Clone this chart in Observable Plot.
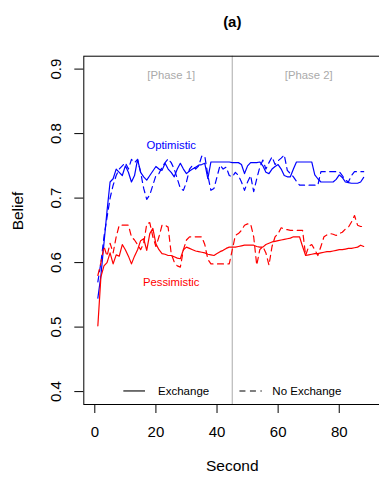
<!DOCTYPE html>
<html><head><meta charset="utf-8">
<script src="https://cdn.jsdelivr.net/npm/d3@7"></script>
<script src="https://cdn.jsdelivr.net/npm/@observablehq/plot@0.6"></script>
<style>body{margin:0;background:#fff}</style>
</head><body><div id="chart"></div>
<script>
const seconds = [1,2,3,4,5,6,7,8,9,10,11,12,13,14,15,16,17,18,19,20,21,22,23,24,25,26,27,28,29,30,31,32,33,34,35,36,37,38,39,40,41,42,43,44,45,46,47,48,49,50,51,52,53,54,55,56,57,58,59,60,61,62,63,64,65,66,67,68,69,70,71,72,73,74,75,76,77,78,79,80,81,82,83,84,85,86,87,88];
const exchangeOptimistic = [
  0.545,0.58,0.63,0.68,0.725,0.73,0.745,0.74,0.735,0.75,
  0.74,0.725,0.735,0.76,0.74,0.733,0.728,0.735,0.742,0.749,
  0.745,0.743,0.754,0.745,0.74,0.733,0.745,0.754,0.745,0.738,
  0.742,0.745,0.748,0.751,0.752,0.754,0.73,0.756,0.756,0.756,
  0.756,0.756,0.756,0.756,0.755,0.755,0.755,0.752,0.738,0.75,
  0.755,0.755,0.755,0.756,0.75,0.74,0.738,0.745,0.749,0.752,
  0.745,0.735,0.733,0.733,0.745,0.756,0.756,0.756,0.756,0.756,
  0.756,0.736,0.73,0.725,0.725,0.725,0.725,0.725,0.729,0.736,
  0.732,0.725,0.724,0.723,0.723,0.723,0.725,0.732];
const noExchangeOptimistic = [
  0.57,0.6,0.64,0.67,0.7,0.72,0.735,0.745,0.75,0.755,
  0.745,0.76,0.755,0.76,0.74,0.715,0.698,0.705,0.72,0.735,
  0.738,0.748,0.755,0.761,0.755,0.745,0.73,0.715,0.712,0.725,
  0.745,0.751,0.745,0.75,0.765,0.765,0.735,0.712,0.715,0.733,
  0.751,0.745,0.748,0.735,0.733,0.74,0.735,0.725,0.712,0.725,
  0.735,0.71,0.73,0.748,0.759,0.745,0.755,0.764,0.752,0.758,
  0.762,0.767,0.743,0.738,0.733,0.726,0.72,0.72,0.72,0.72,
  0.72,0.72,0.72,0.741,0.741,0.741,0.741,0.741,0.741,0.741,
  0.735,0.728,0.725,0.735,0.741,0.741,0.741,0.741];
const exchangePessimistic = [
  0.502,0.578,0.595,0.6,0.615,0.598,0.612,0.61,0.628,0.62,
  0.61,0.598,0.61,0.62,0.634,0.637,0.619,0.645,0.653,0.629,
  0.62,0.614,0.613,0.611,0.611,0.609,0.607,0.606,0.62,0.624,
  0.622,0.62,0.618,0.617,0.616,0.615,0.613,0.612,0.611,0.614,
  0.617,0.619,0.622,0.624,0.624,0.624,0.625,0.626,0.627,0.627,
  0.627,0.627,0.625,0.624,0.624,0.628,0.63,0.632,0.633,0.634,
  0.635,0.636,0.637,0.638,0.64,0.64,0.64,0.625,0.611,0.612,
  0.613,0.614,0.614,0.615,0.616,0.617,0.617,0.618,0.619,0.62,
  0.62,0.621,0.622,0.622,0.623,0.624,0.627,0.625];
const noExchangePessimistic = [
  0.58,0.6,0.625,0.61,0.63,0.615,0.64,0.658,0.658,0.658,
  0.658,0.64,0.635,0.628,0.62,0.63,0.66,0.662,0.64,0.625,
  0.64,0.658,0.658,0.655,0.614,0.601,0.595,0.593,0.62,0.635,
  0.64,0.64,0.64,0.64,0.64,0.628,0.605,0.598,0.598,0.598,
  0.598,0.598,0.598,0.598,0.62,0.642,0.645,0.65,0.658,0.66,
  0.66,0.64,0.596,0.62,0.625,0.615,0.596,0.625,0.64,0.645,
  0.654,0.652,0.651,0.65,0.65,0.65,0.65,0.65,0.611,0.625,
  0.628,0.62,0.611,0.625,0.64,0.643,0.645,0.644,0.642,0.645,
  0.647,0.652,0.655,0.663,0.673,0.658,0.656,0.656];
const xTicks = [0, 20, 40, 60, 80];
const yTicks = [0.4, 0.5, 0.6, 0.7, 0.8, 0.9];
const phaseBreak = [45];
const phaseLabels = ["[Phase 1]", "[Phase 2]"];
const phaseCenters = [25, 70];
const groupLabels = ["Optimistic", "Pessimistic"];
const legendLabels = ["Exchange", "No Exchange"];

const toRows = vals => seconds.map((s, i) => ({second: s, belief: vals[i]}));
const font = "'Liberation Sans', Arial, Helvetica, sans-serif";
const DASH = "6,4.5";

const chart = Plot.plot({
  width: 379, height: 479,
  marginLeft: 83.3, marginRight: -1.3, marginTop: 55.7, marginBottom: 75,
  style: {fontFamily: font, background: "white", color: "black", overflow: "hidden"},
  x: {domain: [-3.6, 93.6], range: [83.3, 380.3]},
  y: {domain: [0.38, 0.92], range: [404, 55.7]},
  marks: [
    Plot.ruleX(phaseBreak, {stroke: "#bebebe", strokeWidth: 1.3}),
    Plot.text(phaseLabels, {x: (d, i) => phaseCenters[i], frameAnchor: "top", dy: 14.5, fill: "#aaaaaa", fontSize: 11.3}),
    Plot.line(toRows(exchangeOptimistic), {x: "second", y: "belief", stroke: "blue", strokeWidth: 1.2}),
    Plot.line(toRows(noExchangeOptimistic), {x: "second", y: "belief", stroke: "blue", strokeWidth: 1.2, strokeDasharray: DASH}),
    Plot.line(toRows(exchangePessimistic), {x: "second", y: "belief", stroke: "red", strokeWidth: 1.2}),
    Plot.line(toRows(noExchangePessimistic), {x: "second", y: "belief", stroke: "red", strokeWidth: 1.2, strokeDasharray: DASH}),
    Plot.text([groupLabels[0]], {x: 25, y: 0.782, fill: "blue", fontSize: 11.3}),
    Plot.text([groupLabels[1]], {x: 25, y: 0.570, fill: "red", fontSize: 11.3}),
    Plot.ruleY([0.401], {x1: 9.5, x2: 16.6, stroke: "black", strokeWidth: 1.1}),
    Plot.ruleY([0.401], {x1: 47.5, x2: 54.8, stroke: "black", strokeWidth: 1.1, strokeDasharray: DASH}),
    Plot.text([legendLabels[0]], {x: 20.7, y: 0.401, textAnchor: "start", fontSize: 11.5}),
    Plot.text([legendLabels[1]], {x: 58.1, y: 0.401, textAnchor: "start", fontSize: 11.5}),
    Plot.frame({stroke: "black"}),
    Plot.axisY({ticks: yTicks, tickSize: 9, tickPadding: 13.5, tickRotate: -90, tickFormat: d3.format(".1f"), fontSize: 15, label: null}),
    Plot.axisX({ticks: xTicks, tickSize: 9, tickPadding: 13, fontSize: 15, label: null}),
    Plot.text(["Belief"], {frameAnchor: "left", dx: -66, rotate: -90, fontSize: 15.5}),
    Plot.text(["Second"], {frameAnchor: "bottom", dy: 66, fontSize: 15.5}),
    Plot.text(["(a)"], {frameAnchor: "top", dy: -40, fontSize: 15, fontWeight: "bold"})
  ]
});
document.getElementById("chart").appendChild(chart);
</script>
</body></html>
